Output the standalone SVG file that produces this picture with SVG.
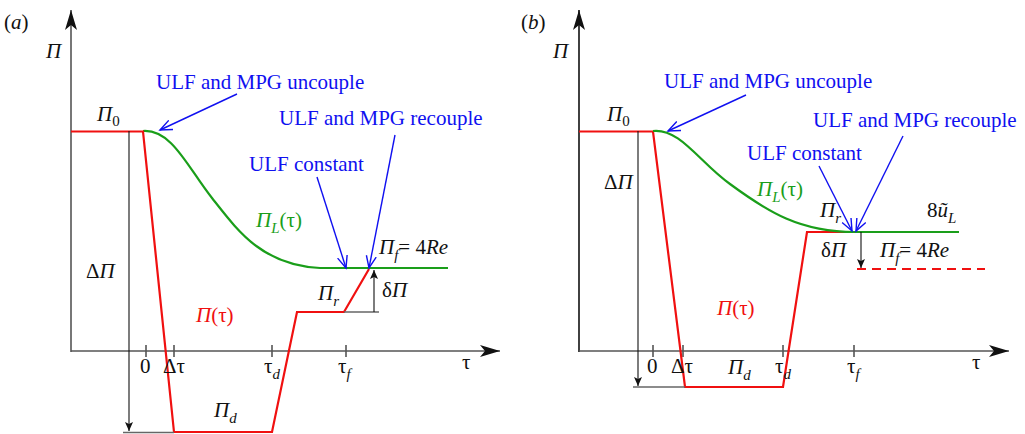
<svg xmlns="http://www.w3.org/2000/svg" width="1025" height="434" viewBox="0 0 1025 434">
<style>
.m{font-style:italic}
.u{font-style:normal}
.s{font-size:15px}
.blue{fill:#1010f0}
.grn{fill:#1a9e1a}
.red{fill:#f01010}
.k{fill:#111}
.ax{stroke:#555;stroke-width:1.6;fill:none}
.axb{stroke:#111;stroke-width:1.6;fill:none}
.thin{stroke:#111;stroke-width:1.1;fill:none}
.gr{stroke:#666;stroke-width:1.4;fill:none}
.rl{stroke:#f01010;stroke-width:2.2;fill:none}
.gl{stroke:#1a9e1a;stroke-width:2.2;fill:none}
.bl{stroke:#1010f0;stroke-width:1.4;fill:none}
</style>
<defs>
<marker id="axh" markerWidth="22" markerHeight="12" refX="20" refY="6" orient="auto" markerUnits="userSpaceOnUse">
<path d="M0,0 L20,6 L0,12 L5,6 Z" fill="#111"/>
</marker>
<marker id="bh" markerWidth="14" markerHeight="12" refX="12" refY="6" orient="auto" markerUnits="userSpaceOnUse">
<path d="M0,1 L12,6 L0,11" fill="none" stroke="#1010f0" stroke-width="1.4"/>
</marker>
<marker id="kh" markerWidth="10" markerHeight="8" refX="9" refY="4" orient="auto" markerUnits="userSpaceOnUse">
<path d="M0,0 L9,4 L0,8 L2,4 Z" fill="#111"/>
</marker>
</defs>

<g id="panel-a">
<text x="4" y="29" class="u k" font-family="Liberation Serif" font-size="21">(<tspan class="m">a</tspan>)</text>
<g id="a-axes">
<line class="ax" x1="71" y1="352" x2="71" y2="10" marker-end="url(#axh)"/>
<line class="ax" x1="71" y1="351" x2="500" y2="351" marker-end="url(#axh)"/>
<line class="ax" x1="146" y1="345" x2="146" y2="357"/>
<line class="ax" x1="174" y1="345" x2="174" y2="357"/>
<line class="ax" x1="272" y1="345" x2="272" y2="357"/>
<line class="ax" x1="346" y1="345" x2="346" y2="357"/>
</g>
<g id="a-curves">
<path class="gl" d="M143,131 C172,129 188,168 212,198 C238,231 262,265 320,268 L448,268"/>
<path class="rl" d="M71,131.5 L143,131.5 L174,432 L272,432 L297,312 L344,312 L369,269"/>
</g>
<g id="a-connectors">
<line class="thin" x1="129" y1="131" x2="129" y2="431" marker-end="url(#kh)"/>
<line class="gr" x1="123" y1="432.5" x2="174" y2="432.5"/>
<line class="gr" x1="344" y1="312" x2="379" y2="312"/>
<line class="thin" x1="374" y1="312" x2="374" y2="270" marker-end="url(#kh)"/>
<line class="bl" x1="237" y1="94" x2="160" y2="130" marker-end="url(#bh)"/>
<line class="bl" x1="317" y1="177" x2="346" y2="268" marker-end="url(#bh)"/>
<line class="bl" x1="395" y1="135" x2="369" y2="268" marker-end="url(#bh)"/>
</g>
<g id="a-labels" font-family="Liberation Serif" font-size="21">
<text x="46" y="58" class="m k" font-family="Liberation Serif" font-size="21">Π</text>
<text x="97" y="121" class="m k" font-family="Liberation Serif" font-size="21">Π<tspan class="u s" dy="5">0</tspan></text>
<text x="140" y="373" class="u k" font-family="Liberation Serif" font-size="21">0</text>
<text x="163" y="373" class="u k" font-family="Liberation Serif" font-size="21">Δτ</text>
<text x="264" y="373" class="u k" font-family="Liberation Serif" font-size="21">τ<tspan class="m s" dy="6">d</tspan></text>
<text x="338" y="373" class="u k" font-family="Liberation Serif" font-size="21">τ<tspan class="m s" dy="6">f</tspan></text>
<text x="462" y="369" class="u k" font-family="Liberation Serif" font-size="21">τ</text>
<text x="86" y="278" class="u k" font-family="Liberation Serif" font-size="21">Δ<tspan class="m">Π</tspan></text>
<text x="256" y="227" class="m grn" font-family="Liberation Serif" font-size="21">Π<tspan class="s" dy="6">L</tspan><tspan class="u" dy="-6">(τ)</tspan></text>
<text x="196" y="322" class="m red" font-family="Liberation Serif" font-size="21">Π<tspan class="u">(τ)</tspan></text>
<text x="318" y="300" class="m k" font-family="Liberation Serif" font-size="21">Π<tspan class="s" dy="6">r</tspan></text>
<text x="382" y="297" class="u k" font-family="Liberation Serif" font-size="21">δ<tspan class="m">Π</tspan></text>
<text x="379" y="254" class="m k" font-family="Liberation Serif" font-size="21">Π<tspan class="s" dy="6">f</tspan><tspan class="u" dy="-6">= 4</tspan>Re</text>
<text x="214" y="417" class="m k" font-family="Liberation Serif" font-size="21">Π<tspan class="s" dy="6">d</tspan></text>
<text x="156" y="89" class="blue" font-family="Liberation Serif" font-size="21">ULF and MPG uncouple</text>
<text x="279" y="125" class="blue" font-family="Liberation Serif" font-size="21">ULF and MPG recouple</text>
<text x="249" y="171" class="blue" font-family="Liberation Serif" font-size="21">ULF constant</text>
</g>
</g>

<g id="panel-b">
<text x="521" y="29" class="u k" font-family="Liberation Serif" font-size="21">(<tspan class="m">b</tspan>)</text>
<g id="b-axes">
<line class="axb" x1="579" y1="352" x2="579" y2="10" marker-end="url(#axh)"/>
<line class="ax" x1="579" y1="351" x2="1009" y2="351" marker-end="url(#axh)"/>
<line class="ax" x1="653" y1="345" x2="653" y2="357"/>
<line class="ax" x1="683" y1="345" x2="683" y2="357"/>
<line class="ax" x1="783" y1="345" x2="783" y2="357"/>
<line class="ax" x1="854" y1="345" x2="854" y2="357"/>
</g>
<g id="b-curves">
<path class="rl" d="M579,131.5 L653,131.5 L685,387 L783,387 L807,232 L855,232"/>
<path class="gl" d="M653,131 C680,128 700,163 730,184 C768,212 800,232 855,232 L959,232"/>
<line class="rl" x1="857" y1="269" x2="985" y2="269" stroke-dasharray="9,6"/>
</g>
<g id="b-connectors">
<line class="thin" x1="638" y1="131" x2="638" y2="386" marker-end="url(#kh)"/>
<line class="gr" x1="633" y1="387" x2="685" y2="387"/>
<line class="thin" x1="861" y1="232" x2="861" y2="268" marker-end="url(#kh)"/>
<line class="bl" x1="746" y1="95" x2="668" y2="131" marker-end="url(#bh)"/>
<line class="bl" x1="819" y1="166" x2="852" y2="231" marker-end="url(#bh)"/>
<line class="bl" x1="903" y1="136" x2="856" y2="231" marker-end="url(#bh)"/>
</g>
<g id="b-labels" font-family="Liberation Serif" font-size="21">
<text x="553" y="58" class="m k" font-family="Liberation Serif" font-size="21">Π</text>
<text x="607" y="121" class="m k" font-family="Liberation Serif" font-size="21">Π<tspan class="u s" dy="5">0</tspan></text>
<text x="647" y="373" class="u k" font-family="Liberation Serif" font-size="21">0</text>
<text x="671" y="373" class="u k" font-family="Liberation Serif" font-size="21">Δτ</text>
<text x="775" y="373" class="u k" font-family="Liberation Serif" font-size="21">τ<tspan class="m s" dy="6">d</tspan></text>
<text x="847" y="373" class="u k" font-family="Liberation Serif" font-size="21">τ<tspan class="m s" dy="6">f</tspan></text>
<text x="972" y="369" class="u k" font-family="Liberation Serif" font-size="21">τ</text>
<text x="604" y="189" class="u k" font-family="Liberation Serif" font-size="21">Δ<tspan class="m">Π</tspan></text>
<text x="757" y="196" class="m grn" font-family="Liberation Serif" font-size="21">Π<tspan class="s" dy="6">L</tspan><tspan class="u" dy="-6">(τ)</tspan></text>
<text x="717" y="315" class="m red" font-family="Liberation Serif" font-size="21">Π<tspan class="u">(τ)</tspan></text>
<text x="820" y="217" class="m k" font-family="Liberation Serif" font-size="21">Π<tspan class="s" dy="6">r</tspan></text>
<text x="927" y="217" class="u k" font-family="Liberation Serif" font-size="21">8<tspan class="m">ũ</tspan><tspan class="m s" dy="6">L</tspan></text>
<text x="821" y="257" class="u k" font-family="Liberation Serif" font-size="21">δ<tspan class="m">Π</tspan></text>
<text x="880" y="257" class="m k" font-family="Liberation Serif" font-size="21">Π<tspan class="s" dy="6">f</tspan><tspan class="u" dy="-6">= 4</tspan>Re</text>
<text x="728" y="374" class="m k" font-family="Liberation Serif" font-size="21">Π<tspan class="s" dy="6">d</tspan></text>
<text x="664" y="88" class="blue" font-family="Liberation Serif" font-size="21">ULF and MPG uncouple</text>
<text x="813" y="127" class="blue" font-family="Liberation Serif" font-size="21">ULF and MPG recouple</text>
<text x="747" y="160" class="blue" font-family="Liberation Serif" font-size="21">ULF constant</text>
</g>
</g>
</svg>
